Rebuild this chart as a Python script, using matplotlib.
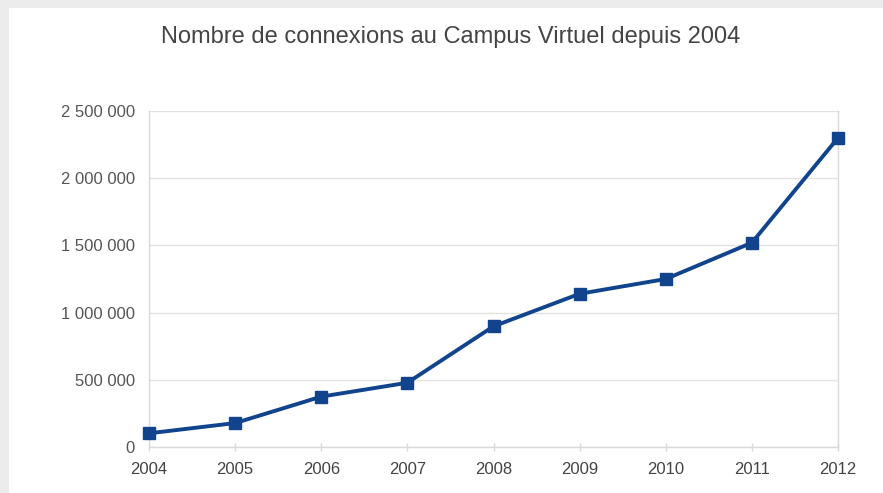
import matplotlib
matplotlib.use("Agg")
from matplotlib import pyplot as plt
from matplotlib.patches import Rectangle
from matplotlib.ticker import FuncFormatter

# donnees
annees = [2004, 2005, 2006, 2007, 2008, 2009, 2010, 2011, 2012]
connexions = [102000, 178000, 375000, 478000, 898000, 1140000, 1250000, 1520000, 2300000]
graduations_y = [0, 500000, 1000000, 1500000, 2000000, 2500000]

plt.rcParams['font.family'] = ['Liberation Sans', 'DejaVu Sans']

W, H = 883, 493
fig = plt.figure(figsize=(W / 100, H / 100), dpi=100, facecolor="#ececec")

# carte blanche avec ombre en haut et a gauche
fig.patches.append(Rectangle((9 / W, 0), 1, 1 - 8 / H, transform=fig.transFigure,
                             facecolor="white", edgecolor="none", zorder=-10))

ax = fig.add_axes([149 / W, 1 - 447 / H, (838 - 149) / W, (447 - 111) / H])
ax.set_facecolor("white")

ax.plot(annees, connexions, color="#11448c", linewidth=2.8, marker="s",
        markersize=8.5, markerfacecolor="#11448c", markeredgecolor="#11448c",
        zorder=3, clip_on=False)

ax.set_xlim(2004, 2012)
ax.set_ylim(0, 2500000)
ax.set_xticks(annees)
ax.set_yticks(graduations_y)

def fmt(v, pos):
    return f"{int(v):,}".replace(",", " ")

ax.yaxis.set_major_formatter(FuncFormatter(fmt))
ax.grid(axis="y", color="#e2e2e2", linewidth=1)
ax.set_axisbelow(True)

for s in ["left", "bottom", "right"]:
    ax.spines[s].set_color("#dadada")
    ax.spines[s].set_linewidth(1)
ax.spines["top"].set_visible(False)

ax.tick_params(axis="x", colors="#dadada", labelcolor="#444444", length=6,
               width=1, direction="inout", labelsize=12, pad=8)
ax.tick_params(axis="y", length=0, labelcolor="#555555", labelsize=12, pad=10)

fig.text(451 / W, 1 - 37 / H, "Nombre de connexions au Campus Virtuel depuis 2004",
         ha="center", va="center", fontsize=17, color="#444444")

fig.savefig("out.png", dpi=100, facecolor=fig.get_facecolor())
